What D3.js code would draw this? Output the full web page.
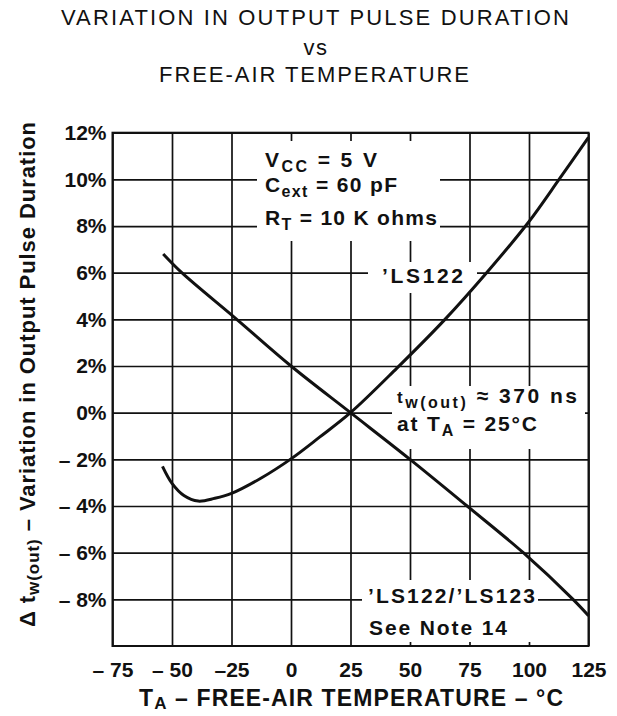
<!DOCTYPE html>
<html><head><meta charset="utf-8">
<script src="https://cdn.jsdelivr.net/npm/d3@7"></script>
<style>
html,body{margin:0;padding:0;background:#fff;}
svg{display:block;}
text{fill:#111;font-family:"Liberation Sans",Arial,Helvetica,sans-serif;}
</style></head>
<body>
<script>
// ---- data ----
const xTicks = [-75, -50, -25, 0, 25, 50, 75, 100, 125];
const xTickLabels = ["\u2013 75", "\u2013 50", "\u201325", "0", "25", "50", "75", "100", "125"];
const yTicks = [12, 10, 8, 6, 4, 2, 0, -2, -4, -6, -8];
const yTickLabels = ["12%", "10%", "8%", "6%", "4%", "2%", "0%", "\u2013 2%", "\u2013 4%", "\u2013 6%", "\u2013 8%"];
// 'LS122 curve
const ls122Temp = [-54, -50, -45, -39, -32, -25, -12.5, 0, 12, 25, 44.4, 64.7, 82.2, 99.7, 113, 125];
const ls122Var  = [-2.3, -3.03, -3.55, -3.79, -3.67, -3.46, -2.8, -1.98, -1.05, 0, 1.9, 4, 6, 8.15, 10.05, 11.8];
// 'LS122/'LS123 curve
const ls123Temp = [-53.7, -45.9, -22.8, 0, 25, 50, 74, 97.6, 118.5, 125];
const ls123Var  = [6.8, 6, 4, 2, 0, -2, -4, -6, -8, -8.7];

const W = 617, H = 716;
const X0 = 112.5, X1 = 588.5, Y0 = 132.7, Y1 = 646;

const svg = d3.select("body").append("svg").attr("width", W).attr("height", H);
const x = d3.scaleLinear().domain([-75, 125]).range([X0, X1]);
const y = d3.scaleLinear().domain([-10, 12]).range([Y1, Y0]);

function fit(sel, target) {
  const node = sel.node();
  const n = node.textContent.length;
  const w = node.getComputedTextLength();
  sel.attr("letter-spacing", ((target - w) / (n - 1)).toFixed(3));
}

// ---- grid via axes ----
const gx = svg.append("g").attr("transform", `translate(0,${Y1})`)
  .call(d3.axisBottom(x).tickValues(xTicks).tickSize(-(Y1 - Y0)).tickPadding(16)
    .tickFormat((d, i) => xTickLabels[i]));
gx.select(".domain").remove();
gx.selectAll("line").attr("stroke", "#111").attr("stroke-width", 1.7);
gx.selectAll("text").attr("font-size", 21).attr("font-weight", "bold").attr("fill", "#111")
  .style("font-family", '"Liberation Sans",Arial,sans-serif');

const gy = svg.append("g").attr("transform", `translate(${X0},0)`)
  .call(d3.axisLeft(y).tickValues(yTicks).tickSize(-(X1 - X0)).tickPadding(6)
    .tickFormat((d, i) => yTickLabels[i]));
gy.select(".domain").remove();
gy.selectAll("line").attr("stroke", "#111").attr("stroke-width", 1.7);
gy.selectAll("text").attr("font-size", 21).attr("font-weight", "bold").attr("fill", "#111")
  .style("font-family", '"Liberation Sans",Arial,sans-serif');

// white label boxes over the grid
const boxes = [[257, 141, 440, 241], [368, 262, 477, 293], [392, 386, 585, 449], [362, 580, 538, 642]];
svg.append("g").selectAll("rect").data(boxes).join("rect")
  .attr("x", d => d[0]).attr("y", d => d[1])
  .attr("width", d => d[2] - d[0]).attr("height", d => d[3] - d[1])
  .attr("fill", "#fff");

// frame
svg.append("rect").attr("x", X0).attr("y", Y0).attr("width", X1 - X0).attr("height", Y1 - Y0)
  .attr("fill", "none").attr("stroke", "#111").attr("stroke-width", 2);

// curves
const line = d3.line().x(d => x(d[0])).y(d => y(d[1])).curve(d3.curveCatmullRom.alpha(0.5));
svg.append("path").datum(ls122Temp.map((t, i) => [t, ls122Var[i]]))
  .attr("d", line).attr("fill", "none").attr("stroke", "#111").attr("stroke-width", 3);
svg.append("path").datum(ls123Temp.map((t, i) => [t, ls123Var[i]]))
  .attr("d", line).attr("fill", "none").attr("stroke", "#111").attr("stroke-width", 3);

// ---- titles ----
const t1 = svg.append("text").attr("x", 316).attr("y", 25).attr("text-anchor", "middle")
  .attr("font-size", 22).text("VARIATION IN OUTPUT PULSE DURATION");
fit(t1, 508);
svg.append("text").attr("x", 316).attr("y", 55).attr("text-anchor", "middle")
  .attr("font-size", 22).attr("letter-spacing", 1.5).text("vs");
const t3 = svg.append("text").attr("x", 315).attr("y", 82).attr("text-anchor", "middle")
  .attr("font-size", 22).text("FREE-AIR TEMPERATURE");
fit(t3, 310);

// x title
const xt = svg.append("text").attr("x", 139).attr("y", 706).attr("font-size", 23).attr("font-weight", "bold");
xt.append("tspan").text("T");
xt.append("tspan").attr("font-size", 17).attr("dy", 3).text("A");
xt.append("tspan").attr("dy", -3).text(" \u2013 FREE-AIR TEMPERATURE \u2013 \u00B0C");
fit(xt, 424);

// y title
const yt = svg.append("text").attr("transform", "translate(35,627) rotate(-90)")
  .attr("font-size", 22).attr("font-weight", "bold");
yt.append("tspan").text("\u0394 t");
yt.append("tspan").attr("font-size", 17).attr("dy", 4).text("w(out)");
yt.append("tspan").attr("dy", -4).text(" \u2013 Variation in Output Pulse Duration");
fit(yt, 505);

// ---- annotations ----
function sub(x0, y0, parts, target) {
  const t = svg.append("text").attr("x", x0).attr("y", y0).attr("font-size", 21).attr("font-weight", "bold");
  let cur = 0;
  parts.forEach(p => {
    const off = (p.sub ? 5 : 0);
    const s = t.append("tspan").text(p.t).attr("dy", off - cur);
    if (p.sub) s.attr("font-size", 16);
    if (p.small) s.attr("font-size", 17);
    cur = off;
  });
  if (target) fit(t, target);
  return t;
}
sub(265, 167, [{t: "V"}, {t: "CC", sub: true}, {t: " = 5 V"}], 112);
sub(265, 192, [{t: "C"}, {t: "ext", sub: true}, {t: " = 60 pF"}], 132);
sub(265, 225, [{t: "R"}, {t: "T", sub: true}, {t: " = 10 K ohms"}], 172);
sub(382, 283, [{t: "\u2019LS122"}], 81);
sub(397, 403, [{t: "t", small: true}, {t: "w(out)", sub: true}, {t: " \u2248 370 ns"}], 180);
sub(397, 431, [{t: "at T"}, {t: "A", sub: true}, {t: " = 25\u00B0C"}], 140);
sub(368, 603, [{t: "\u2019LS122/\u2019LS123"}], 167);
sub(369, 635, [{t: "See Note 14"}], 138);
</script>
</body></html>
